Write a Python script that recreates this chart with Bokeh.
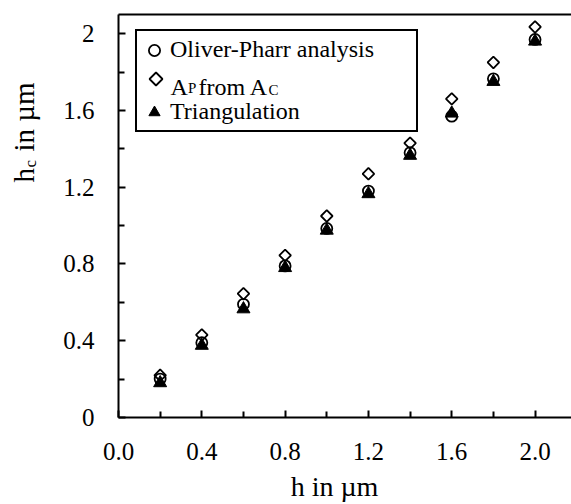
import numpy as np
from bokeh.plotting import figure
from bokeh.layouts import row
from bokeh.models import (Range1d, FixedTicker, LinearAxis, Legend, LegendItem, Label,
                          PolyAnnotation)
from bokeh.embed import file_html
from bokeh.resources import INLINE

# ---------------- data ----------------
h_um = [0.2, 0.4, 0.6, 0.8, 1.0, 1.2, 1.4, 1.6, 1.8, 2.0]
hc_oliver_pharr = [0.20, 0.39, 0.59, 0.79, 0.985, 1.18, 1.38, 1.57, 1.765, 1.97]
hc_ap_from_ac = [0.22, 0.43, 0.645, 0.845, 1.05, 1.27, 1.43, 1.66, 1.85, 2.035]
hc_triangulation = [0.18, 0.375, 0.565, 0.78, 0.975, 1.165, 1.365, 1.585, 1.75, 1.96]

x_ticks = [0.0, 0.4, 0.8, 1.2, 1.6, 2.0]
x_tick_labels = ["0.0", "0.4", "0.8", "1.2", "1.6", "2.0"]
x_minor = [0.2, 0.6, 1.0, 1.4, 1.8]
y_ticks = [0.0, 0.4, 0.8, 1.2, 1.6, 2.0]
y_tick_labels = ["0", "0.4", "0.8", "1.2", "1.6", "2"]
y_minor = [0.2, 0.6, 1.0, 1.4, 1.8]

legend_labels = ["Oliver-Pharr analysis", "Triangulation"]

FONT = "Liberation Serif, serif"
X0, X1 = 0.0, 2.175
Y0, Y1 = 0.0, 2.1

W, H = 571, 504          # whole page area used
LW = 60                  # width of the strip holding the y-axis title
FL, FR, FT, FB = 116, 571, 14, 419   # frame edges in page pixels

# ---------------- strip with the rotated y-axis title ----------------
ylab = figure(width=LW, height=H, output_backend="svg", toolbar_location=None,
              x_range=Range1d(0, 1), y_range=Range1d(0, 1),
              x_axis_type=None, y_axis_type=None, min_border=0)
ylab.outline_line_color = None
ylab.grid.visible = False
ang = np.pi / 2
mid_x = 23     # centre line of the rotated text
for txt, py, dx_, fs in [("h", 269, 0, "29px"), ("c", 254, 7, "17px"),
                         ("in µm", 238, 0, "29px")]:
    ylab.add_layout(Label(x=mid_x + dx_, y=H - py, x_units="screen", y_units="screen",
                          text=txt, text_font=FONT, text_font_size=fs, angle=ang,
                          text_align="left", text_baseline="middle", text_color="black"))

# ---------------- main plot ----------------
p = figure(width=W - LW, height=H, output_backend="svg", toolbar_location=None,
           x_range=Range1d(X0, X1), y_range=Range1d(Y0, Y1),
           min_border_left=FL - LW, min_border_right=0,
           min_border_top=FT, min_border_bottom=H - FB)
p.outline_line_color = None
p.grid.visible = False

for ax in (p.xaxis[0], p.yaxis[0]):
    ax.axis_line_width = 2
    ax.axis_line_color = "black"
    ax.major_tick_line_width = 2
    ax.minor_tick_line_width = 2
    ax.major_tick_in = 7
    ax.major_tick_out = 0
    ax.minor_tick_in = 6
    ax.minor_tick_out = 0
    ax.major_label_text_font = FONT
    ax.major_label_text_font_size = "25px"
    ax.major_label_text_color = "black"

p.xaxis[0].ticker = FixedTicker(ticks=x_ticks, minor_ticks=x_minor)
p.xaxis[0].major_label_overrides = {t: l for t, l in zip(x_ticks, x_tick_labels)}
p.xaxis[0].major_label_standoff = 25
p.xaxis[0].axis_label = "h in µm" + "\u00a0" * 3
p.xaxis[0].axis_label_text_font = FONT
p.xaxis[0].axis_label_text_font_size = "28px"
p.xaxis[0].axis_label_text_font_style = "normal"
p.xaxis[0].axis_label_text_color = "black"
p.xaxis[0].axis_label_standoff = 8

p.yaxis[0].ticker = FixedTicker(ticks=y_ticks, minor_ticks=y_minor)
p.yaxis[0].major_label_overrides = {t: l for t, l in zip(y_ticks, y_tick_labels)}
p.yaxis[0].major_label_standoff = 24

# top border line of the frame
top = LinearAxis(ticker=FixedTicker(ticks=[]), major_label_text_font_size="0px",
                 axis_line_width=2, major_tick_in=0, major_tick_out=0,
                 minor_tick_in=0, minor_tick_out=0)
p.add_layout(top, "above")

# ---------------- data marks ----------------
r_circ = p.scatter(h_um, hc_oliver_pharr, marker="circle", size=11,
                   fill_color="white", fill_alpha=0.0, line_color="black", line_width=1.8)
r_tri = p.scatter(h_um, hc_triangulation, marker="triangle", size=13,
                  fill_color="black", line_color="black", line_width=1)
r_dia = p.scatter(h_um, hc_ap_from_ac, marker="square", angle=np.pi / 4, size=8.2,
                  fill_color="white", fill_alpha=0.0, line_color="black", line_width=1.8)
# legend row for the diamonds: invisible swatch, the key diamond is drawn below
r_dia_key = p.scatter(x=[np.nan], y=[np.nan], marker="diamond", size=12,
                      fill_alpha=0.0, line_alpha=0.0)

# ---------------- legend ----------------
legend = Legend(items=[LegendItem(label=legend_labels[0], renderers=[r_circ]),
                       LegendItem(label=" ", renderers=[r_dia_key]),
                       LegendItem(label=legend_labels[1], renderers=[r_tri])],
                location=(17, 285),
                label_text_font=FONT, label_text_font_size="24px", label_text_color="black",
                glyph_width=28, glyph_height=28, label_standoff=2, padding=3,
                spacing=0, label_height=31, label_width=243, margin=0,
                border_line_color="black", border_line_alpha=1.0, border_line_width=2,
                background_fill_color="white", background_fill_alpha=0.0)
p.add_layout(legend, "center")


def sx(px):
    return px - FL


def sy(py):
    return FB - py


# key diamond of the second legend row (square-proportioned like the data diamonds)
kx, ky, kr = sx(153.5), sy(80.5), 6.5
p.add_layout(PolyAnnotation(xs=[kx, kx + kr, kx, kx - kr], ys=[ky + kr, ky, ky - kr, ky],
                            xs_units="screen", ys_units="screen",
                            fill_color="white", fill_alpha=0.0,
                            line_color="black", line_alpha=1.0, line_width=1.8,
                            level="overlay"))

# second legend row: "A_P from A_C" with subscripts
row2_base = 80.5 + 8   # baseline (page px) of the second legend row
for txt, px, dy_, fs in [("A", 168, 0, "24px"), ("P", 185.5, 1, "15px"),
                         ("from A", 196, 0, "24px"), ("C", 266, 2.5, "15px")]:
    p.add_layout(Label(x=sx(px), y=sy(row2_base + dy_), x_units="screen", y_units="screen",
                       text=txt, text_font=FONT, text_font_size=fs,
                       text_baseline="alphabetic", text_align="left", text_color="black",
                       level="overlay"))

open("out.html", "w").write(file_html(row(ylab, p), INLINE))
